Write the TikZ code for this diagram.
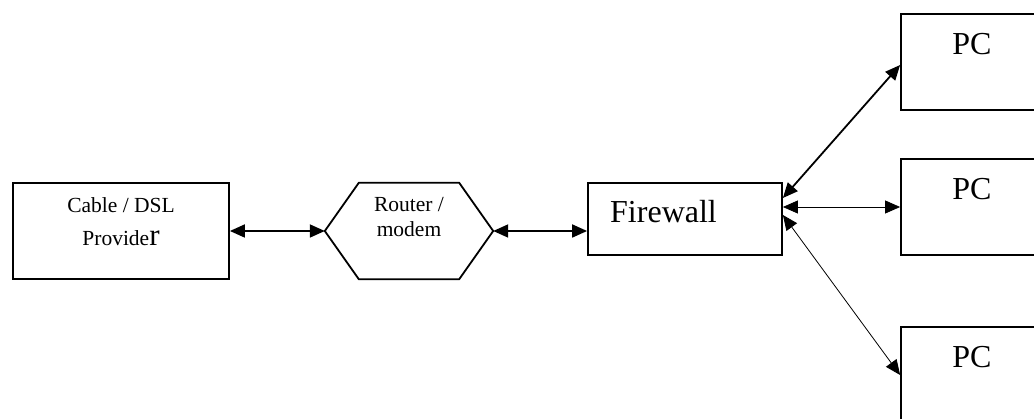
\documentclass[tikz,border=0pt]{standalone}
\usepackage{fontspec}
\setmainfont{Liberation Serif}
\usetikzlibrary{arrows.meta,positioning,calc}
\tikzset{
  box/.style={draw,line width=1.8pt,minimum height=96pt,inner sep=0pt},
  small/.style={font=\fontsize{21.5}{15}\selectfont,inner sep=0pt},
  big/.style={font=\fontsize{32}{36}\selectfont,inner sep=0pt},
  tip/.tip={Triangle[length=15pt,width=13pt]},
  link/.style={line width=1.8pt,tip-tip},
  thinlink/.style={line width=0.8pt,tip-tip}
}
\begin{document}
\begin{tikzpicture}[x=1pt,y=-1pt]
  \useasboundingbox (0,0) rectangle (1034,419);
  \clip (0,0) rectangle (1034,419);
  \node[box,minimum width=216pt] (provider) at (121,231) {};
  \node[small,anchor=base] (providerA) at (121,213) {Cable / DSL};
  \node[small,anchor=base] (providerB) at (121,246) {Provide{\fontsize{31}{31}\selectfont r}};
  \node[minimum width=168pt,minimum height=96pt,inner sep=0pt] (router) at (409,231) {};
  \draw[line width=1.8pt] (router.west) -- ([xshift=34pt]router.north west) -- ([xshift=-34pt]router.north east)
    -- (router.east) -- ([xshift=-34pt]router.south east) -- ([xshift=34pt]router.south west) -- cycle;
  \node[small,anchor=base] (routerA) at (409,212) {Router /};
  \node[small,anchor=base] (routerB) at (409,237) {modem};
  \node[box,minimum width=194pt,minimum height=72pt] (firewall) at (685,219) {};
  \node[big,anchor=base west] (firewallT) at (610,223) {Firewall};
  \foreach \n/\y in {1/62,2/207,3/375} {
    \node[box,minimum width=198pt] (pc\n) at (1000,\y) {};
    \node[big,anchor=base] (pc\n T) at (972,\y-7) {PC};
  }
  \draw[link] (provider.east) -- (router.west);
  \draw[link] (router.east) -- (router.east -| firewall.west);
  \draw[link] ([yshift=21pt]firewall.east) -- ([yshift=-3pt]pc1.west);
  \draw[thinlink] ([yshift=12pt]firewall.east) -- (pc2.west);
  \draw[thinlink] ([yshift=4pt]firewall.east) -- (pc3.west);
\end{tikzpicture}
\end{document}
